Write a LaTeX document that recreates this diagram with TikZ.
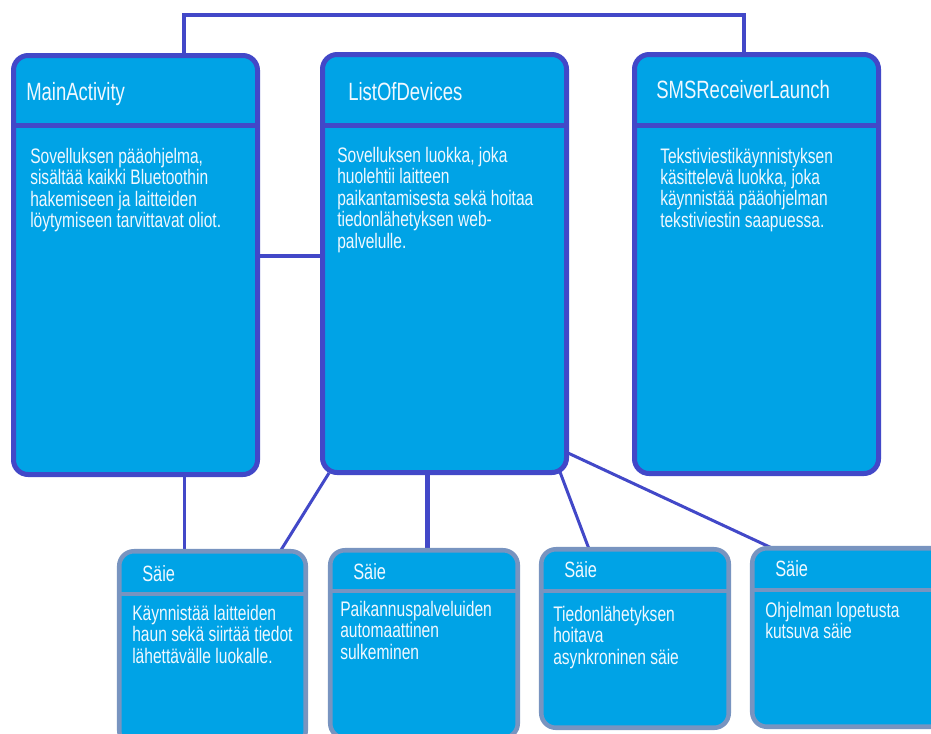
\documentclass[tikz,border=0pt]{standalone}
\usepackage{fontspec}
\setmainfont{Liberation Sans}[FakeStretch=0.74]
\usetikzlibrary{fit}
\definecolor{fillc}{RGB}{0,163,230}
\definecolor{edgec}{RGB}{66,72,200}
\definecolor{sedgec}{RGB}{120,148,192}
\definecolor{textc}{RGB}{240,248,255}
\newcommand\tblock[1]{\begin{tabular}[t]{@{}l@{}}#1\end{tabular}}
\tikzset{
  mainbox/.style={draw=edgec, fill=fillc, line width=3.75pt, rounded corners=11pt, inner sep=0pt, outer sep=0pt},
  threadbox/.style={draw=sedgec, fill=fillc, line width=3.4pt, rounded corners=11pt, inner sep=0pt, outer sep=0pt},
  maindiv/.style={draw=edgec, line width=3.75pt},
  threaddiv/.style={draw=sedgec, line width=3.4pt},
  thick conn/.style={draw=edgec, line width=3.4pt},
  thin conn/.style={draw=edgec, line width=2.25pt},
  titletext/.style={anchor=base west, inner sep=0pt, text=textc, font=\fontsize{18.75}{20}\selectfont},
  bodytext/.style={anchor=base west, inner sep=0pt, text=textc, font=\fontsize{15.75}{15.6}\selectfont},
  stitletext/.style={anchor=base west, inner sep=0pt, text=textc, font=\fontsize{16.6}{17}\selectfont},
  sbodytext/.style={anchor=base west, inner sep=0pt, text=textc, font=\fontsize{15.8}{16.1}\selectfont},
}
\begin{document}
\begin{tikzpicture}[x=0.75pt, y=-0.75pt]
\useasboundingbox (0,0) rectangle (931,733);
\clip (0,0) rectangle (931,733);
% connector points
\coordinate (tl) at (184,15);
\coordinate (tr) at (744,15);
\coordinate (mab) at (184,476);
\coordinate (s1t) at (184,551);
\coordinate (l1) at (329,473);
\coordinate (s1r) at (281,550);
\coordinate (l2) at (427.5,472);
\coordinate (s2t) at (427.5,550);
\coordinate (l3) at (560,472);
\coordinate (s3t) at (589,549);
\coordinate (l4) at (568,453);
\coordinate (s4t) at (774,549);
\coordinate (h1) at (258,256);
\coordinate (h2) at (322,256);
% connectors
\draw[thick conn] (184,56) -- (tl) -- (tr) -- (744,56);
\draw[thick conn] (h1) -- (h2);
\draw[thin conn] (mab) -- (s1t);
\draw[thin conn] (l1) -- (s1r);
\draw[thick conn] (l2) -- (s2t);
\draw[thin conn] (l3) -- (s3t);
\draw[thin conn] (l4) -- (s4t);
% main boxes
\node[mainbox, fit={(13.5,55.5) (257.5,474.5)}] (ma) {};
\node[mainbox, fit={(322.5,54.5) (566.5,472.5)}] (lod) {};
\node[mainbox, fit={(634.5,54.5) (878.5,473.5)}] (sms) {};
\draw[maindiv] (ma.west |- 0,125) -- (ma.east |- 0,125);
\draw[maindiv] (lod.west |- 0,125) -- (lod.east |- 0,125);
\draw[maindiv] (sms.west |- 0,125) -- (sms.east |- 0,125);
% thread boxes
\node[threadbox, fit={(119.25,551.25) (305.75,745)}] (s1) {};
\node[threadbox, fit={(330.25,550.25) (517.75,738)}] (s2) {};
\node[threadbox, fit={(541.25,549.25) (728.75,727.75)}] (s3) {};
\node[threadbox, fit={(752.25,548.25) (950,726.75)}] (s4) {};
\draw[threaddiv] (s1.west |- 0,594) -- (s1.east |- 0,594);
\draw[threaddiv] (s2.west |- 0,591) -- (s2.east |- 0,591);
\draw[threaddiv] (s3.west |- 0,591) -- (s3.east |- 0,591);
\draw[threaddiv] (s4.west |- 0,590) -- (s4.east |- 0,590);
% texts
\node[titletext] (mat) at (26,100.5) {MainActivity};
\node[bodytext] (mab2) at (30,163.5) {\tblock{Sovelluksen pääohjelma,\\ sisältää kaikki Bluetoothin\\ hakemiseen ja laitteiden\\ löytymiseen tarvittavat oliot.}};
\node[titletext] (lodt) at (348,100) {ListOfDevices};
\node[bodytext] (lodb) at (337,162.5) {\tblock{Sovelluksen luokka, joka\\ huolehtii laitteen\\ paikantamisesta sekä hoitaa\\ tiedonlähetyksen web-\\ palvelulle.}};
\node[titletext] (smst) at (656,98) {SMSReceiverLaunch};
\node[bodytext] (smsb) at (660,163) {\tblock{Tekstiviestikäynnistyksen\\ käsittelevä luokka, joka\\ käynnistää pääohjelman\\ tekstiviestin saapuessa.}};
\node[stitletext] (s1tt) at (142,581) {Säie};
\node[sbodytext] (s1b) at (132,620) {\tblock{Käynnistää laitteiden\\ haun sekä siirtää tiedot\\ lähettävälle luokalle.}};
\node[stitletext] (s2tt) at (353,579) {Säie};
\node[sbodytext] (s2b) at (340,616) {\tblock{Paikannuspalveluiden\\ automaattinen\\ sulkeminen}};
\node[stitletext] (s3tt) at (564,577) {Säie};
\node[sbodytext] (s3b) at (553,621) {\tblock{Tiedonlähetyksen\\ hoitava\\ asynkroninen säie}};
\node[stitletext] (s4tt) at (775,576) {Säie};
\node[sbodytext] (s4b) at (765,617) {\tblock{Ohjelman lopetusta\\ kutsuva säie}};
\end{tikzpicture}
\end{document}
